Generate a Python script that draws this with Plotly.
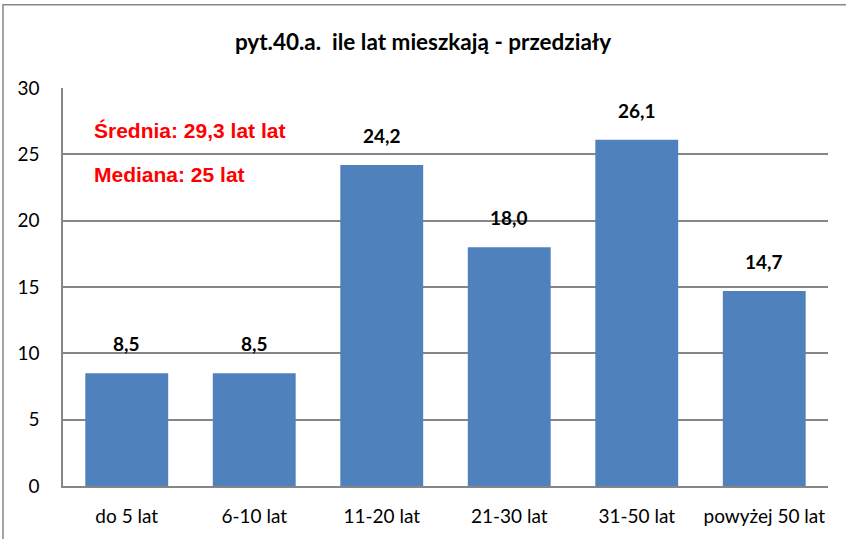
import plotly.graph_objects as go

categories = ["do 5 lat", "6-10 lat", "11-20 lat", "21-30 lat", "31-50 lat", "powyżej 50 lat"]
values = [8.5, 8.5, 24.2, 18.0, 26.1, 14.7]
value_labels = ["8,5", "8,5", "24,2", "18,0", "26,1", "14,7"]
title_text = "pyt.40.a.  ile lat mieszkają - przedziały"
notes = ["Średnia: 29,3 lat lat", "Mediana: 25 lat"]
y_ticks = [0, 5, 10, 15, 20, 25, 30]

W, H = 846, 539
L, R, T, B = 63, 18, 88, 50
pw, ph = W - L - R, H - T - B
FONT = "Lato, Carlito, sans-serif"

fig = go.Figure()
fig.add_trace(go.Bar(
    x=categories, y=values, width=0.65,
    marker=dict(color="#4F81BD", line=dict(width=0)),
    hoverinfo="x+y",
))

for c, v, t in zip(categories, values, value_labels):
    fig.add_annotation(x=c, y=v, xref="x", yref="y", text="<b>" + t + "</b>",
                       showarrow=False, yanchor="bottom", yshift=16,
                       font=dict(family=FONT, size=19, color="#000000"))

fig.update_layout(
    width=W, height=H,
    margin=dict(l=L, r=R, t=T, b=B, pad=0),
    paper_bgcolor="white", plot_bgcolor="white",
    showlegend=False,
    font=dict(family=FONT, size=19, color="#000000"),
    title=dict(text="<b>" + title_text + "</b>", x=0.5, xanchor="center", y=1 - 42 / H, yanchor="middle",
               font=dict(family=FONT, size=22.5, color="#000000")),
    xaxis=dict(showgrid=False, showline=True, linecolor="#868686", linewidth=1.5,
               ticks="", tickfont=dict(size=19), range=[-0.5, 5.5], ticklabelstandoff=12),
    yaxis=dict(range=[0, 30], tickvals=y_ticks, showgrid=True, gridcolor="#868686", gridwidth=1.5,
               showline=True, linecolor="#868686", linewidth=1.5, zeroline=False,
               ticks="", tickfont=dict(size=19), ticklabelstandoff=18),
)

for i, n in enumerate(notes):
    fig.add_annotation(text="<b>" + n + "</b>", xref="paper", yref="paper",
                       x=(92 - L) / pw, y=1 - (131 + 44 * i - T) / ph,
                       xanchor="left", yanchor="middle", showarrow=False,
                       font=dict(family="Liberation Sans, Arial, sans-serif", size=21, color="#FF0000"))

# outer chart frame
fig.add_shape(type="rect", xref="paper", yref="paper",
              x0=(3 - L) / pw, x1=(W + 20 - L) / pw,
              y0=-(H + 20 - (T + ph)) / ph, y1=1 + (T - 4) / ph,
              line=dict(color="#868686", width=1.5), fillcolor="rgba(0,0,0,0)", layer="below")

fig.write_html("out.html", config={"displayModeBar": False},
               post_script="document.body.style.margin='0';document.body.style.overflow='hidden';")
